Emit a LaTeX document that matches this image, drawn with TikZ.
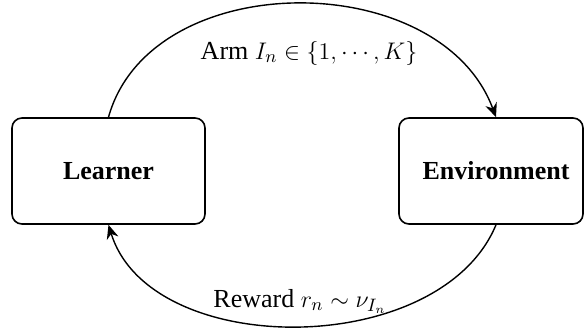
\documentclass[tikz,border=0pt,12pt]{standalone}
\usepackage{fontspec}
\setmainfont{Liberation Serif}
\usetikzlibrary{arrows.meta}
\tikzset{agentbox/.style={draw,line width=0.8pt,rounded corners=5pt,minimum height=53pt,font=\fontsize{13}{16}\selectfont\bfseries}}

\begin{document}
\begin{tikzpicture}[x=0.5pt,y=-0.5pt,>={Stealth[length=7pt,width=6pt]},line join=round,font=\fontsize{13}{16}\selectfont]
\useasboundingbox (0,0) rectangle (584,327);
% --- the two boxes
\node[agentbox,minimum width=96.5pt] (learner) at (108.5,171) {Learner};
\node[agentbox,minimum width=92pt] (environment) at (491,171) {\hspace*{5pt}Environment};
% --- arm choice on top, reward coming back below
\draw[->,line width=0.7pt] (learner.north) .. controls +(42,-151) and +(-56,-151) .. ([xshift=2.5pt]environment.north);
\draw[->,line width=0.7pt] ([xshift=2.5pt]environment.south) .. controls +(-56,135) and +(41.5,135) .. (learner.south);
\node (armlabel) at (309,53) {Arm $I_n \in \{1,\cdots,K\}$};
\node (rewardlabel) at (300,301) {Reward $r_n \sim \nu_{I_n}$};
\end{tikzpicture}
\end{document}
